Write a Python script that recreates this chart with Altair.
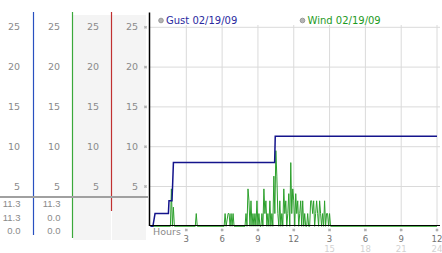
import altair as alt
import pandas as pd

# ---------------- data ----------------
gust_hours = [0.0, 0.2, 0.38, 1.5, 1.55, 1.8, 1.86, 1.92, 10.4, 10.45, 24.0]
gust_mph = [0.0, 0.0, 1.6, 1.6, 3.2, 3.2, 5.5, 8.0, 8.0, 11.3, 11.3]

# wind readings: 5-minute reading number and value (mph)
wind_sample = [0, 20, 21, 22, 23, 24, 45, 46, 47,
               74, 75, 76, 77, 78, 79, 80, 81, 82, 83, 84,
               95, 96, 97, 98, 99, 100, 101, 102, 103,
               104, 105, 106, 107, 108, 109, 110, 111, 112, 113,
               114, 115, 116, 117, 118, 119, 120, 121, 122, 123,
               124, 125, 126, 127, 128, 129, 130, 131, 132, 133,
               134, 135, 136, 137, 138, 139, 140, 141, 142, 143,
               144, 145, 146, 147, 148, 149, 150, 151, 152, 153,
               154, 155, 156, 157, 158, 159, 160, 161, 162, 163,
               164, 165, 166, 167, 168, 169, 170, 171, 172, 173,
               174, 175, 176, 177, 178, 179, 180, 181, 288]
wind_mph = [0, 0, 4.7, 0, 2.4, 0, 0, 1.6, 0,
            0, 1.6, 0, 0.8, 1.6, 1.6, 0, 1.6, 0, 1.6, 0,
            0, 1.6, 0, 4.7, 3.2, 0, 3.2, 0, 1.6,
            0, 1.6, 0, 3.2, 0, 1.6, 0, 0, 1.6, 0,
            4.7, 1.6, 3.2, 0, 1.6, 0, 3.2, 0, 1.6, 0,
            6.3, 1.6, 9.5, 6.3, 1.6, 0, 3.2, 0, 1.6, 0,
            4.7, 1.6, 3.2, 0, 1.6, 4.1, 0, 8.0, 1.6, 4.7,
            3.2, 0, 4.1, 1.6, 3.2, 0, 1.6, 3.2, 0, 3.2,
            0, 1.6, 0, 0, 1.6, 0, 0, 3.2, 3.2, 1.6,
            3.2, 0, 1.6, 3.2, 1.6, 0, 3.2, 1.6, 0, 1.6,
            0, 3.2, 0, 1.6, 1.6, 0, 1.6, 0, 0]

y_ticks = [5, 10, 15, 20, 25]
x_ticks = [3, 6, 9, 12, 15, 18, 21, 24]
x_labels = ["3", "6", "9", "12", "3", "6", "9", "12"]
x_ticks_pm = [15, 18, 21, 24]
x_labels_pm = ["15", "18", "21", "24"]
stat_col1 = ["11.3", "11.3", "0.0"]
stat_col2 = ["11.3", "0.0", "0.0"]
legend_labels = ["Gust 02/19/09", "Wind 02/19/09"]

# ---------------- frames ----------------
gust_df = pd.DataFrame({"h": gust_hours, "v": gust_mph})
wind_df = pd.DataFrame({"h": [s / 12 for s in wind_sample], "v": wind_mph})
ydf = pd.DataFrame({"v": y_ticks, "t": [str(v) for v in y_ticks]})
xdf = pd.DataFrame({"h": x_ticks, "t": x_labels})
xpm = pd.DataFrame({"h": x_ticks_pm, "t": x_labels_pm})
one = pd.DataFrame({"k": [0]})

FONT = "DejaVu Sans"
FONT2 = "Liberation Sans"
XS = alt.Scale(domain=[0, 24], range=[150.5, 437], nice=False, zero=False)
YS = alt.Scale(domain=[0, 25], range=[226.3, 27.3], nice=False, zero=False)
X = alt.X("h:Q", scale=XS, axis=None)
Y = alt.Y("v:Q", scale=YS, axis=None)

layers = []

# column backgrounds
for x1, x2 in [(73, 111), (112, 146)]:
    layers.append(alt.Chart(one).mark_rect(color="#f4f4f4").encode(
        x=alt.value(x1), x2=alt.value(x2), y=alt.value(15), y2=alt.value(240)))

# grid lines
layers.append(alt.Chart(ydf).mark_rule(color="#dadada", strokeWidth=1).encode(
    y=Y, x=alt.value(150), x2=alt.value(440)))
layers.append(alt.Chart(xdf).mark_rule(color="#dadada", strokeWidth=1).encode(
    x=X, y=alt.value(25), y2=alt.value(226)))

# column dividers
for xp, y2, col in [(33.5, 235, "#2850c0"), (72.5, 238, "#3aa83a"), (111.5, 211, "#c03030")]:
    layers.append(alt.Chart(one).mark_rule(color=col, strokeWidth=1.2).encode(
        x=alt.value(xp), y=alt.value(12), y2=alt.value(y2)))
layers.append(alt.Chart(one).mark_rule(color="#a0a0a0", strokeWidth=2).encode(
    x=alt.value(0), x2=alt.value(148), y=alt.value(197)))

# data lines
layers.append(alt.Chart(wind_df).mark_line(color="#2ca02c", strokeWidth=1).encode(x=X, y=Y))
layers.append(alt.Chart(gust_df).mark_line(color="#14148c", strokeWidth=1.5).encode(x=X, y=Y))

# black axes
layers.append(alt.Chart(one).mark_rule(color="#000000", strokeWidth=1.5).encode(
    x=alt.value(149.5), y=alt.value(12.5), y2=alt.value(226)))
layers.append(alt.Chart(one).mark_rule(color="#000000", strokeWidth=1).encode(
    x=alt.value(149), x2=alt.value(440), y=alt.value(225.5)))

# tick markers
layers.append(alt.Chart(ydf).mark_point(shape="cross", angle=45, filled=True, size=10,
                                        color="#b0b0b0", opacity=1).encode(
    x=alt.value(145.5), y=Y))
layers.append(alt.Chart(xdf).mark_point(shape="cross", angle=45, filled=True, size=10,
                                        color="#b0b0b0", opacity=1).encode(
    x=X, y=alt.value(230)))

# y tick labels in each column
for xr in [20, 60, 99, 138]:
    layers.append(alt.Chart(ydf).mark_text(align="right", baseline="middle", font=FONT,
                                           fontSize=9.5, color="#8a8a8a").encode(
        x=alt.value(xr), y=Y, text="t:N"))

# stats under separator
for xr, vals in [(20.5, stat_col1), (60.5, stat_col2)]:
    for yp, t in zip([204, 218, 231], vals):
        layers.append(alt.Chart(one).mark_text(align="right", baseline="middle", font=FONT2,
                                               fontSize=9.5, color="#8a8a8a", text=t).encode(
            x=alt.value(xr), y=alt.value(yp)))

# x labels
layers.append(alt.Chart(xdf).mark_text(align="center", baseline="alphabetic", font=FONT,
                                       fontSize=8.5, color="#707070").encode(
    x=X, y=alt.value(241.5), text="t:N"))
layers.append(alt.Chart(xpm).mark_text(align="center", baseline="alphabetic", font=FONT,
                                       fontSize=8.5, color="#d2d2d2").encode(
    x=X, y=alt.value(252), text="t:N"))
layers.append(alt.Chart(one).mark_text(align="left", baseline="middle", font=FONT,
                                       fontSize=9.5, color="#8a8a8a", text="Hours").encode(
    x=alt.value(153), y=alt.value(232)))

# legend
for xc, lab, col in [(161, legend_labels[0], "#2a2aa0"), (302.5, legend_labels[1], "#1e9a1e")]:
    layers.append(alt.Chart(one).mark_point(shape="circle", filled=True, size=22,
                                            color="#b4b4b4", stroke="#8c8c8c",
                                            strokeWidth=0.8, opacity=1).encode(
        x=alt.value(xc), y=alt.value(20.5)))
    layers.append(alt.Chart(one).mark_text(align="left", baseline="middle", font=FONT,
                                           fontSize=10, color=col, text=lab).encode(
        x=alt.value(xc + 5), y=alt.value(20.5)))

chart = alt.layer(*layers).properties(
    width=442, height=253,
    autosize=alt.AutoSizeParams(type="none"),
    padding=0,
).configure_view(stroke=None)

chart.save("out.html", embed_options={"renderer": "svg", "actions": False})
